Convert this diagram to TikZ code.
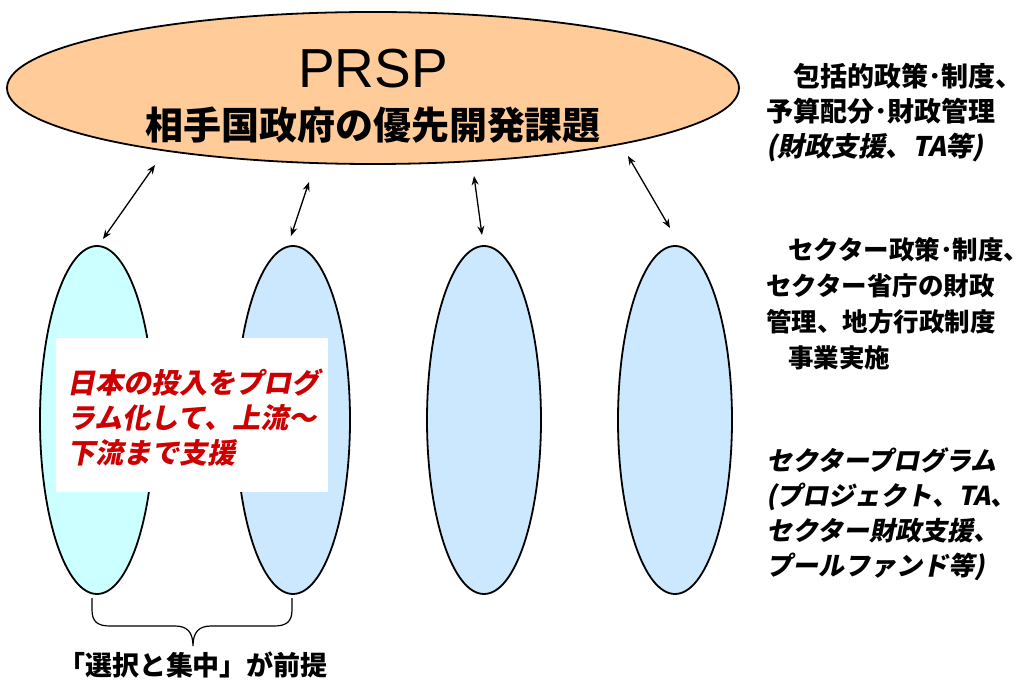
\documentclass[tikz,border=0pt]{standalone}
\usepackage{fontspec}
\setmainfont{Liberation Sans}
\newfontfamily\cjk{Noto Sans CJK JP}
\newfontfamily\cjkit[FakeSlant=0.2]{Noto Sans CJK JP}
\usetikzlibrary{shapes.geometric,arrows.meta}
\definecolor{peach}{HTML}{FFCC99}
\definecolor{lcyan}{HTML}{CCFFFF}
\definecolor{lblue}{HTML}{CCE8FF}
\definecolor{darkred}{HTML}{CC0000}
\begin{document}
\begin{tikzpicture}[x=1pt,y=-1pt,
  bigell/.style={ellipse, draw, line width=1.8pt, inner sep=0pt},
  colell/.style={ellipse, draw, line width=1.8pt, inner sep=0pt, minimum width=114pt, minimum height=348pt},
  link/.style={line width=1.3pt, {Stealth[length=9pt,width=7pt]}-{Stealth[length=9pt,width=7pt]}},
  rtext/.style={anchor=west, align=left, inner sep=0pt, font=\cjk\bfseries\fontsize{27}{35}\selectfont},
  rtextb/.style={anchor=west, align=left, inner sep=0pt, font=\cjk\bfseries\fontsize{25.5}{36}\selectfont},
  ritext/.style={anchor=west, align=left, inner sep=0pt, font=\cjkit\bfseries\fontsize{26}{35}\selectfont},
]
\useasboundingbox (0,0) rectangle (1034,684);

% top ellipse
\node[bigell, fill=peach, minimum width=732pt, minimum height=152pt] (prsp) at (373,88) {};
\node[anchor=base, inner sep=0pt, font=\fontsize{55}{55}\selectfont] (prsptxt) at (373,88) {PRSP};
\node[inner sep=0pt, font=\cjk\bfseries\fontsize{38}{38}\selectfont] (prio) at (373,125) {相手国政府の優先開発課題};

% column ellipses
\node[colell, fill=lcyan] (c1) at (97,420) {};
\node[colell, fill=lblue] (c2) at (293,420) {};
\node[colell, fill=lblue] (c3) at (484,420) {};
\node[colell, fill=lblue] (c4) at (675,420) {};

% arrows
\coordinate (a1s) at (103,239); \coordinate (a1e) at (155,165);
\coordinate (a2s) at (291,236); \coordinate (a2e) at (309,182);
\coordinate (a3s) at (482,235); \coordinate (a3e) at (474,176);
\coordinate (a4s) at (670,228); \coordinate (a4e) at (628,156);
\draw[link] (a1s) -- (a1e);
\draw[link] (a2s) -- (a2e);
\draw[link] (a3s) -- (a3e);
\draw[link] (a4s) -- (a4e);

% white box with red text
\node[fill=white, minimum width=272pt, minimum height=154pt, inner sep=0pt] (wbox) at (192,415) {};
\node[anchor=west, align=left, inner sep=0pt, text=darkred, font=\cjkit\bfseries\fontsize{28}{35}\selectfont] (red) at (67,418)
  {日本の投入をプログ\\ラム化して、上流～\\下流まで支援};

% right texts
\node[rtext] (r1) at (766,113) {　包括的政策･制度、\\予算配分･財政管理\\{\cjkit\bfseries (財政支援、TA等)}};
\node[rtextb] (r2) at (766,304) {\hspace*{22pt}セクター政策･制度、\\セクター省庁の財政\\管理、地方行政制度\\\hspace*{22pt}事業実施};
\node[ritext] (r3) at (766,514) {セクタープログラム\\(プロジェクト、TA、\\セクター財政支援、\\プールファンド等)};

% brace
\draw[line width=1.2pt] (92,598) -- (92,610) .. controls (92,622) and (98,626) .. (110,626) -- (175,626)
  .. controls (187,626) and (193,632) .. (193,646)
  .. controls (193,632) and (199,626) .. (211,626) -- (274,626)
  .. controls (286,626) and (292,622) .. (292,610) -- (292,598);
\node[inner sep=0pt, font=\cjk\bfseries\fontsize{27}{27}\selectfont] (sel) at (193,665) {「選択と集中」が前提};
\end{tikzpicture}
\end{document}
